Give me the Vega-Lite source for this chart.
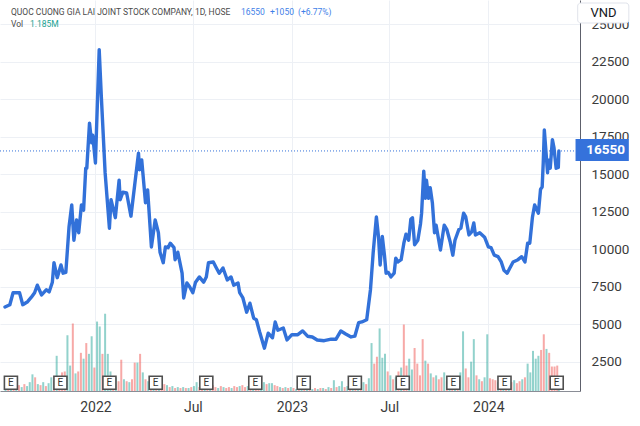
{
  "$schema": "https://vega.github.io/schema/vega-lite/v6.json",
  "width": 580,
  "height": 391,
  "autosize": {"type": "none"},
  "padding": {"left": 0, "top": 0, "right": 60, "bottom": 35},
  "background": "#ffffff",
  "config": {"view": {"stroke": null}, "font": "Roboto"},
  "datasets": {
    "price": [
      {"date": "2021-07-17", "price": 6150}, {"date": "2021-07-26", "price": 6300}, {"date": "2021-08-01", "price": 7100},
      {"date": "2021-08-13", "price": 7100}, {"date": "2021-08-19", "price": 6300}, {"date": "2021-08-28", "price": 6500},
      {"date": "2021-09-04", "price": 6800}, {"date": "2021-09-10", "price": 7100}, {"date": "2021-09-15", "price": 7600},
      {"date": "2021-09-23", "price": 6950}, {"date": "2021-10-02", "price": 7300}, {"date": "2021-10-07", "price": 7150},
      {"date": "2021-10-13", "price": 7800}, {"date": "2021-10-16", "price": 9100}, {"date": "2021-10-22", "price": 8100},
      {"date": "2021-10-29", "price": 8950}, {"date": "2021-11-02", "price": 8400}, {"date": "2021-11-07", "price": 8450},
      {"date": "2021-11-13", "price": 11500}, {"date": "2021-11-18", "price": 12950}, {"date": "2021-11-22", "price": 10600},
      {"date": "2021-11-27", "price": 11950}, {"date": "2021-12-01", "price": 11100}, {"date": "2021-12-06", "price": 12950},
      {"date": "2021-12-10", "price": 12600}, {"date": "2021-12-14", "price": 15400}, {"date": "2021-12-16", "price": 15400},
      {"date": "2021-12-21", "price": 18400}, {"date": "2021-12-25", "price": 17100}, {"date": "2021-12-27", "price": 17600},
      {"date": "2022-01-01", "price": 15750}, {"date": "2022-01-03", "price": 17950}, {"date": "2022-01-08", "price": 23300},
      {"date": "2022-01-12", "price": 20150}, {"date": "2022-01-19", "price": 15100}, {"date": "2022-01-27", "price": 11400},
      {"date": "2022-01-30", "price": 13300}, {"date": "2022-02-07", "price": 12100}, {"date": "2022-02-14", "price": 14600},
      {"date": "2022-02-16", "price": 13300}, {"date": "2022-02-21", "price": 13800}, {"date": "2022-02-28", "price": 13750},
      {"date": "2022-03-08", "price": 12200}, {"date": "2022-03-15", "price": 14300}, {"date": "2022-03-22", "price": 16400},
      {"date": "2022-03-24", "price": 15300}, {"date": "2022-03-28", "price": 15950}, {"date": "2022-04-04", "price": 13100},
      {"date": "2022-04-08", "price": 13950}, {"date": "2022-04-15", "price": 10150}, {"date": "2022-04-22", "price": 11950},
      {"date": "2022-04-28", "price": 11100}, {"date": "2022-05-01", "price": 9800}, {"date": "2022-05-07", "price": 9100},
      {"date": "2022-05-11", "price": 10150}, {"date": "2022-05-16", "price": 10100}, {"date": "2022-05-20", "price": 10400},
      {"date": "2022-05-27", "price": 10100}, {"date": "2022-05-29", "price": 9300}, {"date": "2022-06-03", "price": 9800},
      {"date": "2022-06-11", "price": 8400}, {"date": "2022-06-14", "price": 6750}, {"date": "2022-06-20", "price": 7750},
      {"date": "2022-06-25", "price": 7500}, {"date": "2022-07-01", "price": 7100}, {"date": "2022-07-06", "price": 7800},
      {"date": "2022-07-13", "price": 8150}, {"date": "2022-07-21", "price": 7800}, {"date": "2022-07-26", "price": 8150},
      {"date": "2022-07-30", "price": 9100}, {"date": "2022-08-08", "price": 9150}, {"date": "2022-08-13", "price": 8800},
      {"date": "2022-08-19", "price": 8400}, {"date": "2022-08-26", "price": 8750}, {"date": "2022-09-03", "price": 7950},
      {"date": "2022-09-10", "price": 8150}, {"date": "2022-09-15", "price": 7600}, {"date": "2022-09-23", "price": 7750},
      {"date": "2022-09-26", "price": 7100}, {"date": "2022-10-02", "price": 6750}, {"date": "2022-10-09", "price": 5800},
      {"date": "2022-10-15", "price": 6400}, {"date": "2022-10-22", "price": 5400}, {"date": "2022-10-27", "price": 5300},
      {"date": "2022-11-02", "price": 4500}, {"date": "2022-11-11", "price": 3400}, {"date": "2022-11-18", "price": 4400},
      {"date": "2022-11-26", "price": 4100}, {"date": "2022-12-01", "price": 5150}, {"date": "2022-12-06", "price": 4600},
      {"date": "2022-12-16", "price": 4750}, {"date": "2022-12-23", "price": 3950}, {"date": "2023-01-01", "price": 4300},
      {"date": "2023-01-12", "price": 4300}, {"date": "2023-01-21", "price": 4550}, {"date": "2023-01-30", "price": 4200},
      {"date": "2023-02-08", "price": 4150}, {"date": "2023-02-17", "price": 3950}, {"date": "2023-03-02", "price": 3900},
      {"date": "2023-03-15", "price": 4000}, {"date": "2023-03-24", "price": 4000}, {"date": "2023-04-02", "price": 4550},
      {"date": "2023-04-11", "price": 4350}, {"date": "2023-04-21", "price": 4150}, {"date": "2023-04-28", "price": 4200},
      {"date": "2023-05-05", "price": 5100}, {"date": "2023-05-11", "price": 5150}, {"date": "2023-05-20", "price": 5300},
      {"date": "2023-05-27", "price": 7300}, {"date": "2023-06-01", "price": 9750}, {"date": "2023-06-07", "price": 12150},
      {"date": "2023-06-11", "price": 10800}, {"date": "2023-06-14", "price": 8950}, {"date": "2023-06-18", "price": 10850},
      {"date": "2023-06-22", "price": 9600}, {"date": "2023-06-25", "price": 8400}, {"date": "2023-06-29", "price": 8450},
      {"date": "2023-07-04", "price": 8150}, {"date": "2023-07-10", "price": 8400}, {"date": "2023-07-13", "price": 9400},
      {"date": "2023-07-17", "price": 9150}, {"date": "2023-07-23", "price": 9300}, {"date": "2023-07-28", "price": 10400},
      {"date": "2023-08-01", "price": 11000}, {"date": "2023-08-06", "price": 10600}, {"date": "2023-08-10", "price": 12000},
      {"date": "2023-08-13", "price": 12100}, {"date": "2023-08-17", "price": 10300}, {"date": "2023-08-23", "price": 10600},
      {"date": "2023-08-28", "price": 11700}, {"date": "2023-08-30", "price": 12400}, {"date": "2023-09-03", "price": 15200},
      {"date": "2023-09-06", "price": 13400}, {"date": "2023-09-08", "price": 14600}, {"date": "2023-09-12", "price": 13400},
      {"date": "2023-09-15", "price": 14100}, {"date": "2023-09-19", "price": 13100}, {"date": "2023-09-23", "price": 11100},
      {"date": "2023-09-26", "price": 11600}, {"date": "2023-10-04", "price": 9950}, {"date": "2023-10-11", "price": 11600},
      {"date": "2023-10-16", "price": 11300}, {"date": "2023-10-22", "price": 10500}, {"date": "2023-10-27", "price": 9600},
      {"date": "2023-10-31", "price": 10600}, {"date": "2023-11-07", "price": 11300}, {"date": "2023-11-11", "price": 11400},
      {"date": "2023-11-16", "price": 12400}, {"date": "2023-11-20", "price": 12150}, {"date": "2023-11-26", "price": 10950},
      {"date": "2023-12-01", "price": 11150}, {"date": "2023-12-05", "price": 11750}, {"date": "2023-12-08", "price": 10950},
      {"date": "2023-12-16", "price": 11100}, {"date": "2023-12-25", "price": 10800}, {"date": "2024-01-01", "price": 10150},
      {"date": "2024-01-06", "price": 10100}, {"date": "2024-01-12", "price": 9600}, {"date": "2024-01-19", "price": 9500},
      {"date": "2024-01-25", "price": 9150}, {"date": "2024-01-30", "price": 8600}, {"date": "2024-02-05", "price": 8400},
      {"date": "2024-02-10", "price": 8750}, {"date": "2024-02-16", "price": 9150}, {"date": "2024-02-25", "price": 9300},
      {"date": "2024-03-03", "price": 9500}, {"date": "2024-03-09", "price": 9150}, {"date": "2024-03-14", "price": 10400},
      {"date": "2024-03-18", "price": 10400}, {"date": "2024-03-23", "price": 12150}, {"date": "2024-03-27", "price": 12950},
      {"date": "2024-04-03", "price": 12400}, {"date": "2024-04-07", "price": 14000}, {"date": "2024-04-10", "price": 14150},
      {"date": "2024-04-12", "price": 15750}, {"date": "2024-04-14", "price": 17950}, {"date": "2024-04-20", "price": 15100},
      {"date": "2024-04-21", "price": 15950}, {"date": "2024-04-25", "price": 15400}, {"date": "2024-04-29", "price": 17300},
      {"date": "2024-05-02", "price": 16750}, {"date": "2024-05-06", "price": 15400}, {"date": "2024-05-10", "price": 15450},
      {"date": "2024-05-11", "price": 16550}
    ],
    "vol": [
      {"date": "2021-07-18", "v": 0.75, "s": "u"}, {"date": "2021-07-23", "v": 1, "s": "d"}, {"date": "2021-07-28", "v": 0.5, "s": "u"},
      {"date": "2021-08-02", "v": 0.63, "s": "d"}, {"date": "2021-08-07", "v": 0.38, "s": "u"}, {"date": "2021-08-12", "v": 0.75, "s": "d"},
      {"date": "2021-08-17", "v": 0.5, "s": "u"}, {"date": "2021-08-22", "v": 0.88, "s": "d"}, {"date": "2021-08-27", "v": 0.63, "s": "u"},
      {"date": "2021-09-01", "v": 1.13, "s": "u"}, {"date": "2021-09-06", "v": 2.13, "s": "u"}, {"date": "2021-09-11", "v": 1.75, "s": "d"},
      {"date": "2021-09-16", "v": 0.88, "s": "u"}, {"date": "2021-09-21", "v": 0.75, "s": "d"}, {"date": "2021-09-26", "v": 1.13, "s": "u"},
      {"date": "2021-10-01", "v": 0.63, "s": "d"}, {"date": "2021-10-06", "v": 1, "s": "u"}, {"date": "2021-10-11", "v": 1.75, "s": "u"},
      {"date": "2021-10-16", "v": 1.25, "s": "d"}, {"date": "2021-10-21", "v": 4.5, "s": "u"}, {"date": "2021-10-26", "v": 1.5, "s": "d"},
      {"date": "2021-10-31", "v": 2.38, "s": "d"}, {"date": "2021-11-05", "v": 2.5, "s": "d"}, {"date": "2021-11-10", "v": 7.13, "s": "u"},
      {"date": "2021-11-15", "v": 3.25, "s": "u"}, {"date": "2021-11-20", "v": 8.63, "s": "d"}, {"date": "2021-11-25", "v": 2.25, "s": "u"},
      {"date": "2021-11-30", "v": 2.5, "s": "d"}, {"date": "2021-12-05", "v": 4.88, "s": "d"}, {"date": "2021-12-10", "v": 4.13, "s": "u"},
      {"date": "2021-12-15", "v": 6.13, "s": "d"}, {"date": "2021-12-20", "v": 4.75, "s": "u"}, {"date": "2021-12-25", "v": 7, "s": "u"},
      {"date": "2021-12-30", "v": 3, "s": "d"}, {"date": "2022-01-04", "v": 8.88, "s": "u"}, {"date": "2022-01-09", "v": 8.25, "s": "u"},
      {"date": "2022-01-14", "v": 4.75, "s": "d"}, {"date": "2022-01-19", "v": 9.88, "s": "u"}, {"date": "2022-01-24", "v": 4.75, "s": "u"},
      {"date": "2022-01-29", "v": 2.5, "s": "u"}, {"date": "2022-02-03", "v": 1.5, "s": "d"}, {"date": "2022-02-08", "v": 1.75, "s": "u"},
      {"date": "2022-02-13", "v": 1.25, "s": "d"}, {"date": "2022-02-18", "v": 4, "s": "d"}, {"date": "2022-02-23", "v": 1.5, "s": "u"},
      {"date": "2022-02-28", "v": 1.25, "s": "d"}, {"date": "2022-03-05", "v": 1.13, "s": "u"}, {"date": "2022-03-10", "v": 1.5, "s": "d"},
      {"date": "2022-03-15", "v": 3.63, "s": "d"}, {"date": "2022-03-20", "v": 3.63, "s": "u"}, {"date": "2022-03-25", "v": 4.75, "s": "d"},
      {"date": "2022-03-30", "v": 2.38, "s": "u"}, {"date": "2022-04-04", "v": 1.5, "s": "d"}, {"date": "2022-04-09", "v": 1.25, "s": "u"},
      {"date": "2022-04-14", "v": 0.75, "s": "d"}, {"date": "2022-04-19", "v": 0.63, "s": "u"}, {"date": "2022-04-24", "v": 0.5, "s": "d"},
      {"date": "2022-04-29", "v": 0.75, "s": "u"}, {"date": "2022-05-04", "v": 0.63, "s": "d"}, {"date": "2022-05-09", "v": 0.88, "s": "d"},
      {"date": "2022-05-14", "v": 0.75, "s": "u"}, {"date": "2022-05-19", "v": 0.5, "s": "d"}, {"date": "2022-05-24", "v": 0.63, "s": "u"},
      {"date": "2022-05-29", "v": 0.38, "s": "d"}, {"date": "2022-06-03", "v": 0.5, "s": "u"}, {"date": "2022-06-08", "v": 0.38, "s": "d"},
      {"date": "2022-06-13", "v": 0.5, "s": "u"}, {"date": "2022-06-18", "v": 0.38, "s": "d"}, {"date": "2022-06-23", "v": 0.38, "s": "u"},
      {"date": "2022-06-28", "v": 0.5, "s": "d"}, {"date": "2022-07-03", "v": 0.63, "s": "u"}, {"date": "2022-07-08", "v": 1.13, "s": "u"},
      {"date": "2022-07-13", "v": 0.5, "s": "d"}, {"date": "2022-07-18", "v": 0.63, "s": "d"}, {"date": "2022-07-23", "v": 0.38, "s": "u"},
      {"date": "2022-07-28", "v": 0.5, "s": "d"}, {"date": "2022-08-02", "v": 0.63, "s": "u"}, {"date": "2022-08-07", "v": 0.75, "s": "d"},
      {"date": "2022-08-12", "v": 0.5, "s": "d"}, {"date": "2022-08-17", "v": 0.38, "s": "u"}, {"date": "2022-08-22", "v": 0.63, "s": "d"},
      {"date": "2022-08-27", "v": 0.5, "s": "u"}, {"date": "2022-09-01", "v": 0.38, "s": "d"}, {"date": "2022-09-06", "v": 0.5, "s": "d"},
      {"date": "2022-09-11", "v": 0.38, "s": "u"}, {"date": "2022-09-16", "v": 0.63, "s": "d"}, {"date": "2022-09-21", "v": 0.5, "s": "d"},
      {"date": "2022-09-26", "v": 0.63, "s": "u"}, {"date": "2022-10-01", "v": 0.75, "s": "d"}, {"date": "2022-10-06", "v": 0.5, "s": "d"},
      {"date": "2022-10-11", "v": 0.63, "s": "u"}, {"date": "2022-10-16", "v": 1, "s": "d"}, {"date": "2022-10-21", "v": 0.75, "s": "u"},
      {"date": "2022-10-26", "v": 0.63, "s": "d"}, {"date": "2022-10-31", "v": 0.88, "s": "d"}, {"date": "2022-11-05", "v": 0.75, "s": "u"},
      {"date": "2022-11-10", "v": 1.13, "s": "u"}, {"date": "2022-11-15", "v": 0.88, "s": "d"}, {"date": "2022-11-20", "v": 1, "s": "u"},
      {"date": "2022-11-25", "v": 1, "s": "u"}, {"date": "2022-11-30", "v": 0.75, "s": "d"}, {"date": "2022-12-05", "v": 0.63, "s": "d"},
      {"date": "2022-12-10", "v": 0.5, "s": "u"}, {"date": "2022-12-15", "v": 0.38, "s": "d"}, {"date": "2022-12-20", "v": 0.5, "s": "u"},
      {"date": "2022-12-25", "v": 0.38, "s": "d"}, {"date": "2022-12-30", "v": 0.5, "s": "u"}, {"date": "2023-01-04", "v": 0.38, "s": "d"},
      {"date": "2023-01-09", "v": 0.25, "s": "u"}, {"date": "2023-01-14", "v": 0.38, "s": "d"}, {"date": "2023-01-19", "v": 0.25, "s": "u"},
      {"date": "2023-01-24", "v": 0.38, "s": "d"}, {"date": "2023-01-29", "v": 0.25, "s": "u"}, {"date": "2023-02-03", "v": 0.38, "s": "d"},
      {"date": "2023-02-08", "v": 0.25, "s": "u"}, {"date": "2023-02-13", "v": 0.38, "s": "d"}, {"date": "2023-02-18", "v": 0.25, "s": "u"},
      {"date": "2023-02-23", "v": 0.38, "s": "d"}, {"date": "2023-02-28", "v": 0.38, "s": "u"}, {"date": "2023-03-05", "v": 0.25, "s": "d"},
      {"date": "2023-03-10", "v": 0.5, "s": "u"}, {"date": "2023-03-15", "v": 0.38, "s": "d"}, {"date": "2023-03-20", "v": 1.38, "s": "u"},
      {"date": "2023-03-25", "v": 0.5, "s": "d"}, {"date": "2023-03-30", "v": 0.63, "s": "u"}, {"date": "2023-04-04", "v": 1.25, "s": "u"},
      {"date": "2023-04-09", "v": 0.5, "s": "d"}, {"date": "2023-04-14", "v": 0.63, "s": "u"}, {"date": "2023-04-19", "v": 0.75, "s": "d"},
      {"date": "2023-04-24", "v": 0.5, "s": "u"}, {"date": "2023-04-29", "v": 0.63, "s": "d"}, {"date": "2023-05-04", "v": 0.75, "s": "u"},
      {"date": "2023-05-09", "v": 0.63, "s": "d"}, {"date": "2023-05-14", "v": 1.13, "s": "u"}, {"date": "2023-05-19", "v": 0.88, "s": "d"},
      {"date": "2023-05-24", "v": 1.63, "s": "u"}, {"date": "2023-05-29", "v": 6.13, "s": "u"}, {"date": "2023-06-03", "v": 3.5, "s": "d"},
      {"date": "2023-06-08", "v": 4.38, "s": "d"}, {"date": "2023-06-13", "v": 8, "s": "u"}, {"date": "2023-06-18", "v": 4.25, "s": "u"},
      {"date": "2023-06-23", "v": 4.75, "s": "u"}, {"date": "2023-06-28", "v": 2.5, "s": "d"}, {"date": "2023-07-03", "v": 2, "s": "u"},
      {"date": "2023-07-08", "v": 1.5, "s": "d"}, {"date": "2023-07-13", "v": 1.75, "s": "u"}, {"date": "2023-07-18", "v": 2.5, "s": "d"},
      {"date": "2023-07-23", "v": 3, "s": "u"}, {"date": "2023-07-28", "v": 8.5, "s": "d"}, {"date": "2023-08-02", "v": 3.25, "s": "d"},
      {"date": "2023-08-07", "v": 4.13, "s": "u"}, {"date": "2023-08-12", "v": 2.75, "s": "u"}, {"date": "2023-08-17", "v": 5.5, "s": "d"},
      {"date": "2023-08-22", "v": 3.5, "s": "d"}, {"date": "2023-08-27", "v": 2, "s": "d"}, {"date": "2023-09-01", "v": 6.63, "s": "d"},
      {"date": "2023-09-06", "v": 3.88, "s": "u"}, {"date": "2023-09-11", "v": 3.5, "s": "d"}, {"date": "2023-09-16", "v": 2.25, "s": "u"},
      {"date": "2023-09-21", "v": 1.75, "s": "d"}, {"date": "2023-09-26", "v": 2, "s": "u"}, {"date": "2023-10-01", "v": 1.5, "s": "d"},
      {"date": "2023-10-06", "v": 1.75, "s": "d"}, {"date": "2023-10-11", "v": 2.38, "s": "u"}, {"date": "2023-10-16", "v": 1.25, "s": "d"},
      {"date": "2023-10-21", "v": 1, "s": "u"}, {"date": "2023-10-26", "v": 1.5, "s": "d"}, {"date": "2023-10-31", "v": 1.13, "s": "u"},
      {"date": "2023-11-05", "v": 0.88, "s": "d"}, {"date": "2023-11-10", "v": 2.38, "s": "u"}, {"date": "2023-11-15", "v": 7.63, "s": "u"},
      {"date": "2023-11-20", "v": 2.88, "s": "d"}, {"date": "2023-11-25", "v": 1.75, "s": "d"}, {"date": "2023-11-30", "v": 3.75, "s": "u"},
      {"date": "2023-12-05", "v": 6.63, "s": "u"}, {"date": "2023-12-10", "v": 2, "s": "d"}, {"date": "2023-12-15", "v": 1.5, "s": "u"},
      {"date": "2023-12-20", "v": 1.25, "s": "d"}, {"date": "2023-12-25", "v": 1.75, "s": "u"}, {"date": "2023-12-30", "v": 7.25, "s": "u"},
      {"date": "2024-01-04", "v": 1.63, "s": "d"}, {"date": "2024-01-09", "v": 1.5, "s": "d"}, {"date": "2024-01-14", "v": 1.38, "s": "d"},
      {"date": "2024-01-19", "v": 1.13, "s": "u"}, {"date": "2024-01-24", "v": 1, "s": "d"}, {"date": "2024-01-29", "v": 0.88, "s": "u"},
      {"date": "2024-02-03", "v": 1, "s": "d"}, {"date": "2024-02-08", "v": 0.75, "s": "u"}, {"date": "2024-02-13", "v": 1.13, "s": "d"},
      {"date": "2024-02-18", "v": 1.38, "s": "u"}, {"date": "2024-02-23", "v": 1, "s": "d"}, {"date": "2024-02-28", "v": 1.25, "s": "d"},
      {"date": "2024-03-04", "v": 1.5, "s": "u"}, {"date": "2024-03-09", "v": 1.75, "s": "d"}, {"date": "2024-03-14", "v": 3.5, "s": "u"},
      {"date": "2024-03-19", "v": 2.38, "s": "u"}, {"date": "2024-03-24", "v": 5.13, "s": "u"}, {"date": "2024-03-29", "v": 4.13, "s": "u"},
      {"date": "2024-04-03", "v": 4.5, "s": "u"}, {"date": "2024-04-08", "v": 5.25, "s": "d"}, {"date": "2024-04-13", "v": 7.25, "s": "d"},
      {"date": "2024-04-18", "v": 5.38, "s": "u"}, {"date": "2024-04-23", "v": 4.88, "s": "d"}, {"date": "2024-04-28", "v": 3.13, "s": "d"},
      {"date": "2024-05-03", "v": 3.13, "s": "d"}, {"date": "2024-05-08", "v": 3.25, "s": "d"}, {"date": "2024-05-11", "v": 1.185, "s": "u"}
    ],
    "earn": [
      {"date": "2021-07-28"}, {"date": "2021-10-28"}, {"date": "2022-01-27"}, {"date": "2022-04-23"},
      {"date": "2022-07-26"}, {"date": "2022-10-25"}, {"date": "2023-01-23"}, {"date": "2023-04-28"},
      {"date": "2023-07-26"}, {"date": "2023-10-28"}, {"date": "2024-01-31"}, {"date": "2024-05-07"}
    ],
    "one": [{}]
  },
  "layer": [
    {
      "layer": [
        {
          "data": {"name": "vol"},
          "mark": {"type": "bar", "size": 2, "opacity": 0.5},
          "encoding": {
            "x": {"field": "date", "type": "temporal", "scale": {"domain": [{"year": 2021, "month": 7, "date": 17}, {"year": 2024, "month": 6, "date": 10}]}},
            "y": {"field": "v", "type": "quantitative", "scale": {"domain": [0, 48.875]}, "axis": null},
            "color": {"field": "s", "type": "nominal", "scale": {"domain": ["u", "d"], "range": ["#26a69a", "#ef5350"]}, "legend": null}
          }
        },
        {
          "data": {"name": "earn"},
          "mark": {"type": "point", "shape": "square", "size": 170, "filled": true, "fill": "#ffffff", "stroke": "#4f4f4f", "strokeWidth": 1.6, "opacity": 1},
          "encoding": {
            "x": {"field": "date", "type": "temporal"},
            "y": {"datum": 1.06}
          }
        },
        {
          "data": {"name": "earn"},
          "mark": {"type": "text", "text": "E", "fontSize": 10, "color": "#333333", "align": "center", "baseline": "middle"},
          "encoding": {
            "x": {"field": "date", "type": "temporal"},
            "y": {"datum": 1.06}
          }
        }
      ]
    },
    {
      "layer": [
        {
          "data": {"name": "price"},
          "mark": {"type": "line", "color": "#3271d9", "strokeWidth": 3.4, "strokeJoin": "round", "strokeCap": "round"},
          "encoding": {
            "x": {
              "field": "date", "type": "temporal",
              "axis": {
                "title": null,
                "values": [{"year": 2022, "month": 1, "date": 1}, {"year": 2022, "month": 7, "date": 1}, {"year": 2023, "month": 1, "date": 1}, {"year": 2023, "month": 7, "date": 1}, {"year": 2024, "month": 1, "date": 1}],
                "labelExpr": "month(datum.value) == 0 ? timeFormat(datum.value, '%Y') : timeFormat(datum.value, '%b')",
                "grid": true, "gridColor": "#edf0f5", "ticks": false,
                "domain": true, "domainColor": "#8a8d96",
                "labelFontSize": 14, "labelColor": "#3b3b3b", "labelPadding": 9, "labelFont": "Roboto"
              }
            },
            "y": {
              "field": "price", "type": "quantitative",
              "scale": {"domain": [547, 26613], "nice": false, "zero": false},
              "axis": {
                "orient": "right", "title": null,
                "values": [2500, 5000, 7500, 10000, 12500, 15000, 17500, 20000, 22500, 25000],
                "format": "d",
                "grid": true, "gridColor": "#edf0f5", "ticks": false,
                "domain": true, "domainColor": "#5d606b",
                "labelFontSize": 13.5, "labelColor": "#3b3b3b", "labelPadding": 11, "labelFont": "Roboto",
                "labelFlush": false, "labelOverlap": false
              }
            }
          }
        },
        {
          "data": {"name": "one"},
          "mark": {"type": "rule", "color": "#3271d9", "strokeWidth": 1, "strokeDash": [1, 2]},
          "encoding": {"y": {"datum": 16550}}
        },
        {
          "data": {"name": "one"},
          "mark": {"type": "rect", "fill": "#3572db"},
          "encoding": {
            "x": {"datum": {"year": 2024, "month": 6, "date": 11}},
            "x2": {"datum": {"year": 2024, "month": 9, "date": 18}},
            "y": {"datum": 17346},
            "y2": {"datum": 15880}
          }
        },
        {
          "data": {"name": "one"},
          "mark": {"type": "text", "text": "16550", "color": "#ffffff", "fontSize": 13.5, "fontWeight": "bold", "align": "left", "baseline": "middle", "font": "Roboto"},
          "encoding": {
            "x": {"datum": {"year": 2024, "month": 7, "date": 1}},
            "y": {"datum": 16613}
          }
        },
        {
          "data": {"name": "one"},
          "mark": {"type": "rect", "fill": "#ffffff", "stroke": "#e0e3eb", "strokeWidth": 1, "cornerRadius": 3},
          "encoding": {
            "x": {"datum": {"year": 2024, "month": 6, "date": 15}},
            "x2": {"datum": {"year": 2024, "month": 9, "date": 18}},
            "y": {"datum": 26413},
            "y2": {"datum": 25080}
          }
        },
        {
          "data": {"name": "one"},
          "mark": {"type": "text", "text": "VND", "color": "#131722", "fontSize": 13, "align": "center", "baseline": "middle", "font": "Roboto"},
          "encoding": {
            "x": {"datum": {"year": 2024, "month": 8, "date": 2}},
            "y": {"datum": 25746}
          }
        },
        {
          "data": {"name": "one"},
          "mark": {"type": "text", "text": "QUOC CUONG GIA LAI JOINT STOCK COMPANY, 1D, HOSE", "color": "#4a4a4a", "fontSize": 8.5, "align": "left", "baseline": "middle", "dx": 6},
          "encoding": {"x": {"datum": {"year": 2021, "month": 7, "date": 17}}, "y": {"datum": 25780}}
        },
        {
          "data": {"name": "one"},
          "mark": {"type": "text", "text": "16550", "color": "#3f7fe8", "fontSize": 8.5, "align": "left", "baseline": "middle", "dx": 236},
          "encoding": {"x": {"datum": {"year": 2021, "month": 7, "date": 17}}, "y": {"datum": 25780}}
        },
        {
          "data": {"name": "one"},
          "mark": {"type": "text", "text": "+1050", "color": "#3f7fe8", "fontSize": 8.5, "align": "left", "baseline": "middle", "dx": 265},
          "encoding": {"x": {"datum": {"year": 2021, "month": 7, "date": 17}}, "y": {"datum": 25780}}
        },
        {
          "data": {"name": "one"},
          "mark": {"type": "text", "text": "(+6.77%)", "color": "#3f7fe8", "fontSize": 8.5, "align": "left", "baseline": "middle", "dx": 293},
          "encoding": {"x": {"datum": {"year": 2021, "month": 7, "date": 17}}, "y": {"datum": 25780}}
        },
        {
          "data": {"name": "one"},
          "mark": {"type": "text", "text": "Vol", "color": "#4a4a4a", "fontSize": 8.5, "align": "left", "baseline": "middle", "dx": 6},
          "encoding": {"x": {"datum": {"year": 2021, "month": 7, "date": 17}}, "y": {"datum": 25033}}
        },
        {
          "data": {"name": "one"},
          "mark": {"type": "text", "text": "1.185M", "color": "#22a393", "fontSize": 8.5, "align": "left", "baseline": "middle", "dx": 25},
          "encoding": {"x": {"datum": {"year": 2021, "month": 7, "date": 17}}, "y": {"datum": 25033}}
        }
      ]
    }
  ],
  "resolve": {"scale": {"y": "independent"}}
}
